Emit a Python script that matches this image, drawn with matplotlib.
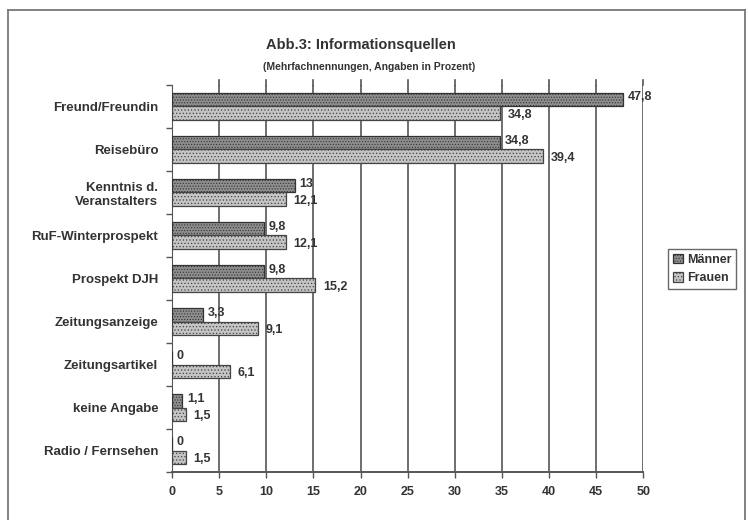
import numpy as np
import matplotlib.pyplot as plt
from matplotlib.lines import Line2D

plt.rcParams['font.family'] = ['Liberation Sans', 'DejaVu Sans']
plt.rcParams['hatch.linewidth'] = 0.5
plt.rcParams['hatch.color'] = '#555555'

# Daten
kategorien = ['Freund/Freundin', 'Reisebüro', 'Kenntnis d.\nVeranstalters',
              'RuF-Winterprospekt', 'Prospekt DJH', 'Zeitungsanzeige',
              'Zeitungsartikel', 'keine Angabe', 'Radio / Fernsehen']
maenner = [47.8, 34.8, 13, 9.8, 9.8, 3.3, 0, 1.1, 0]
frauen = [34.8, 39.4, 12.1, 12.1, 15.2, 9.1, 6.1, 1.5, 1.5]
x_ticks = [0, 5, 10, 15, 20, 25, 30, 35, 40, 45, 50]

def fmt(v):
    s = ('%.1f' % v).rstrip('0').rstrip('.')
    return s.replace('.', ',')

fig = plt.figure(figsize=(7.48, 5.2), dpi=100)
ax = fig.add_axes([0.23, 0.092, 0.63, 0.745])

y = np.arange(len(kategorien))
h = 0.31
b1 = ax.barh(y - h / 2, maenner, height=h, color='#8e8e8e', edgecolor='#333333',
             hatch='......', linewidth=0.9, label='Männer', zorder=3)
b2 = ax.barh(y + h / 2, frauen, height=h, color='#c4c4c4', edgecolor='#444444',
             hatch='.....', linewidth=0.9, label='Frauen', zorder=3)

for yi, m, f in zip(y, maenner, frauen):
    ax.text(m + 0.5, yi - h / 2 - 0.05, fmt(m), va='center', ha='left',
            fontsize=9, fontweight='bold', color='#333333')
    ax.text(f + 0.8, yi + h / 2 + 0.05, fmt(f), va='center', ha='left',
            fontsize=9, fontweight='bold', color='#333333')

ax.set_xlim(0, 50)
ax.set_ylim(len(kategorien) - 0.5, -0.5)
ax.set_xticks(x_ticks)
ax.set_xticklabels([str(t) for t in x_ticks], fontsize=9, fontweight='bold',
                   color='#333333')
ax.set_yticks(y)
ax.set_yticklabels(kategorien, fontsize=9.5, fontweight='bold', color='#333333')
ax.tick_params(axis='y', length=0, pad=10)
ax.tick_params(axis='x', length=4, width=1, color='#555555', pad=6)
ax.set_yticks(np.arange(len(kategorien) + 1) - 0.5, minor=True)
ax.tick_params(axis='y', which='minor', length=4, width=1, color='#555555')

ax.grid(axis='x', color='#555555', linewidth=1.2, zorder=0)
# kurze Striche oberhalb der Gitterlinien
for t in x_ticks[1:]:
    ax.plot([t, t], [-0.5, -0.6], color='#555555', linewidth=1.2,
            clip_on=False, zorder=0)
for s in ['top', 'right']:
    ax.spines[s].set_visible(False)
ax.spines['left'].set_color('#555555')
ax.spines['bottom'].set_color('#555555')
ax.spines['bottom'].set_linewidth(1.4)

fig.text(0.483, 0.905, 'Abb.3: Informationsquellen', ha='center', fontsize=10.5,
         fontweight='bold', color='#333333')
fig.text(0.493, 0.865, '(Mehrfachnennungen, Angaben in Prozent)', ha='center',
         fontsize=7.5, fontweight='bold', color='#333333')

leg = fig.legend(handles=[b1, b2], loc='center left', bbox_to_anchor=(0.885, 0.483),
                 fontsize=9, frameon=True, fancybox=False, edgecolor='#444444',
                 handlelength=0.8, handleheight=0.8, handletextpad=0.3,
                 borderpad=0.4, labelspacing=0.5)
leg.get_frame().set_linewidth(1.0)
for t in leg.get_texts():
    t.set_fontweight('bold')
    t.set_color('#333333')

# Rahmen um die Grafik (unten offen)
for xs, ys in [([0.011, 0.011], [0.0, 0.981]), ([0.011, 0.996], [0.981, 0.981]),
               ([0.996, 0.996], [0.0, 0.981])]:
    fig.add_artist(Line2D(xs, ys, transform=fig.transFigure, color='#777777',
                          linewidth=1.3))

fig.savefig('out.png', dpi=100)
